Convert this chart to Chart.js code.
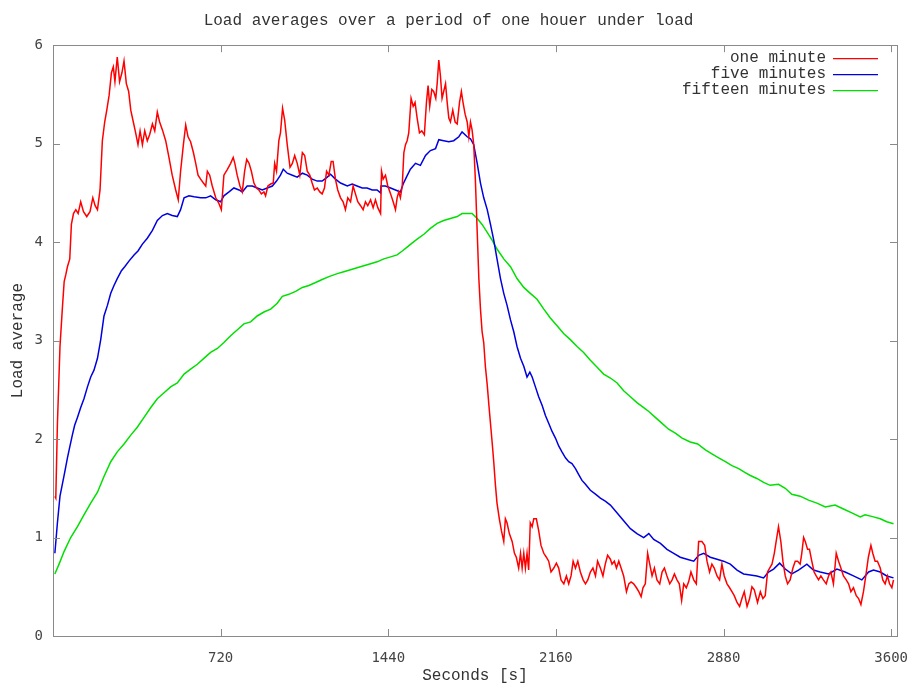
<!DOCTYPE html>
<html>
<head>
<meta charset="utf-8">
<script src="https://cdn.jsdelivr.net/npm/chart.js@4"></script>
<style>
html,body{margin:0;padding:0;background:#fff;}
canvas{display:block;}
</style>
</head>
<body>
<canvas id="c" width="909" height="684"></canvas>
<script>
// ---- data (seconds, load average) ----
const oneMinTime = [8,12,19,30,40,48,55,62,72,79,88,98,108,119,131,145,159,171,181,191,202,212,222,231,241,251,259,266,276,286,296,305,315,325,334,345,355,365,374,384,394,405,415,427,437,448,458,470,484,498,512,527,538,548,560,570,580,
591,603,613,623,634,646,656,663,673,684,699,713,723,734,749,763,774,781,791,803,813,823,832,842,852,863,874,884,895,906,913,923,935,946,952,960,970,977,986,995,1006,1018,1028,1038,1049,1060,1071,1081,1092,1103,1113,1123,1135,1146,1156,1166,1175,1185,
1195,1203,1213,1223,1235,1246,1256,1266,1278,1289,1299,1309,1321,1332,1342,1352,1364,1375,1385,1395,1407,1411,1418,1428,1438,1450,1461,1471,1478,1485,1492,1500,1507,1514,1521,1528,1538,1547,1555,1564,1574,1584,1595,1604,1611,1618,1627,1635,1644,1650,1657,1664,1671,1678,1686,1693,1700,1707,1717,1727,1736,1746,1754,1761,1770,1779,1786,1793,
1800,1807,1814,1822,1829,1836,1843,1850,1857,1865,1872,1879,1886,1893,1900,1907,1917,1926,1936,1943,1950,1960,1972,1982,1990,2000,2008,2015,2022,2029,2036,2043,2050,2058,2065,2076,2086,2096,2108,2119,2129,2139,2151,2162,2172,2182,2194,2205,2215,2225,2234,2244,2254,2265,2277,2287,2297,2308,2319,2330,2339,2351,2362,2372,2382,
2394,2401,2411,2420,2430,2440,2451,2463,2473,2483,2494,2506,2516,2526,2534,2544,2554,2563,2573,2583,2594,2606,2616,2626,2637,2649,2659,2669,2680,2690,2700,2709,2720,2730,2740,2752,2763,2773,2787,2799,2809,2820,2830,2840,2852,2863,2873,2883,2895,2906,2916,2926,2938,2949,2959,2969,2981,2992,
3002,3012,3026,3038,3049,3059,3069,3078,3088,3098,3106,3116,3126,3135,3145,3155,3166,3178,3188,3198,3209,3216,3224,3231,3241,3249,3259,3269,3278,3288,3298,3309,3321,3331,3341,3352,3364,3374,3384,3395,3407,3417,3427,3438,3450,3460,3470,3481,3491,3502,3513,3521,3531,3541,3553,3564,3574,3584,3593,3603,3610];
const oneMinLoad = [1.42,1.40,2.16,2.94,3.32,3.60,3.67,3.75,3.83,4.18,4.29,4.33,4.29,4.41,4.31,4.26,4.31,4.45,4.37,4.33,4.53,5.03,5.22,5.34,5.49,5.72,5.78,5.63,5.88,5.63,5.72,5.84,5.61,5.53,5.34,5.22,5.11,4.99,5.13,4.99,5.13,5.03,5.09,5.20,5.13,5.32,5.22,5.14,5.03,4.86,4.68,4.53,4.43,4.72,4.99,5.19,5.07,
5.02,4.91,4.80,4.68,4.64,4.60,4.57,4.72,4.68,4.57,4.45,4.39,4.33,4.68,4.74,4.80,4.86,4.80,4.68,4.57,4.51,4.72,4.84,4.80,4.72,4.60,4.55,4.53,4.49,4.51,4.47,4.57,4.59,4.60,4.80,4.72,5.03,5.11,5.36,5.24,4.99,4.76,4.80,4.88,4.80,4.68,4.91,4.88,4.72,4.68,4.60,4.53,4.55,4.51,4.49,4.55,4.72,4.68,
4.82,4.82,4.64,4.53,4.45,4.41,4.33,4.45,4.41,4.57,4.49,4.41,4.37,4.33,4.41,4.37,4.43,4.35,4.43,4.35,4.29,4.72,4.64,4.68,4.57,4.49,4.41,4.33,4.45,4.51,4.45,4.57,4.91,4.99,5.03,5.11,5.46,5.38,5.42,5.26,5.11,5.13,5.09,5.42,5.59,5.38,5.55,5.53,5.46,5.61,5.85,5.69,5.46,5.53,5.61,5.42,5.26,5.22,5.34,5.22,5.20,5.42,5.53,5.42,5.30,5.22,5.07,5.22,
5.14,4.99,4.64,4.10,3.63,3.32,3.09,2.98,2.74,2.55,2.35,2.16,1.97,1.77,1.54,1.35,1.19,1.07,0.96,1.19,1.15,1.04,0.96,0.84,0.80,0.69,0.84,0.69,0.84,0.69,0.84,0.67,1.15,1.11,1.19,1.19,1.07,0.92,0.84,0.80,0.76,0.65,0.69,0.74,0.69,0.57,0.53,0.61,0.53,0.61,0.76,0.69,0.76,0.65,0.57,0.53,0.57,0.65,0.69,0.61,0.76,0.69,0.61,0.73,0.82,
0.78,0.73,0.76,0.69,0.76,0.69,0.61,0.45,0.53,0.55,0.53,0.49,0.45,0.40,0.49,0.53,0.84,0.73,0.61,0.69,0.57,0.53,0.65,0.69,0.61,0.53,0.57,0.63,0.57,0.53,0.36,0.53,0.49,0.55,0.65,0.57,0.53,0.96,0.96,0.92,0.76,0.65,0.73,0.69,0.61,0.57,0.73,0.61,0.53,0.49,0.45,0.41,0.34,0.30,0.38,0.45,0.30,0.38,
0.50,0.47,0.34,0.45,0.38,0.41,0.65,0.69,0.73,0.84,0.96,1.11,0.96,0.76,0.61,0.53,0.57,0.69,0.76,0.76,0.73,0.84,1.00,0.96,0.88,0.88,0.76,0.65,0.61,0.57,0.61,0.57,0.53,0.61,0.65,0.53,0.84,0.76,0.69,0.61,0.57,0.53,0.45,0.49,0.41,0.38,0.32,0.45,0.61,0.80,0.92,0.84,0.76,0.76,0.69,0.57,0.53,0.61,0.53,0.49,0.57];

const fiveMinTime = [8,19,30,40,50,62,73,83,93,105,119,133,148,162,176,191,205,219,234,248,262,276,294,308,327,348,365,384,405,427,448,470,491,512,534,548,563,584,
606,634,656,677,699,720,734,756,777,799,813,834,856,877,899,920,942,960,977,989,1006,1028,1049,1071,1092,1113,1135,1156,1178,1192,
1213,1235,1264,1285,1306,1328,1349,1371,1392,1407,1409,1428,1450,1471,1492,1504,1518,1535,1557,1578,1600,1621,1643,1657,1678,1700,1721,1743,1757,1779,1793,
1807,1822,1836,1850,1865,1879,1893,1907,1922,1936,1950,1965,1979,1993,2008,2022,2036,2048,2058,2072,2086,2101,2115,2129,2143,2158,2172,2186,2201,2215,2229,2244,2258,2272,2287,2308,2330,2351,2372,2394,
2423,2451,2480,2508,2537,2559,2580,2609,2637,2666,2694,2723,2752,2773,2795,2823,2852,2880,2909,2938,2966,2995,
3023,3052,3073,3095,3121,3145,3173,3202,3238,3266,3295,3331,3367,3402,3438,3474,3503,3524,3553,3581,3610];
const fiveMinLoad = [0.84,1.15,1.42,1.54,1.66,1.81,1.93,2.04,2.14,2.22,2.32,2.41,2.53,2.63,2.70,2.82,3.01,3.25,3.36,3.48,3.56,3.63,3.71,3.75,3.81,3.87,3.91,3.98,4.04,4.12,4.22,4.27,4.29,4.27,4.26,4.33,4.45,4.47,
4.46,4.45,4.45,4.47,4.43,4.41,4.47,4.51,4.55,4.53,4.51,4.57,4.57,4.55,4.53,4.55,4.57,4.62,4.68,4.74,4.70,4.68,4.66,4.70,4.68,4.64,4.62,4.62,4.66,4.69,
4.64,4.60,4.57,4.59,4.57,4.55,4.55,4.53,4.53,4.50,4.57,4.57,4.55,4.53,4.51,4.59,4.66,4.74,4.80,4.78,4.88,4.93,4.95,5.04,5.03,5.02,5.03,5.07,5.12,5.07,5.05,
4.99,4.80,4.60,4.45,4.33,4.18,4.02,3.83,3.63,3.48,3.36,3.21,3.09,2.94,2.82,2.74,2.63,2.68,2.63,2.53,2.43,2.34,2.24,2.16,2.08,2.01,1.93,1.87,1.81,1.77,1.75,1.70,1.64,1.58,1.54,1.48,1.44,1.40,1.37,1.33,
1.25,1.17,1.09,1.04,1.00,1.04,0.98,0.94,0.88,0.84,0.80,0.78,0.76,0.82,0.84,0.80,0.78,0.76,0.73,0.67,0.63,0.62,
0.61,0.59,0.65,0.68,0.74,0.68,0.63,0.67,0.73,0.67,0.65,0.63,0.68,0.65,0.61,0.57,0.65,0.67,0.65,0.61,0.59];

const fifteenMinTime = [8,26,48,76,105,133,162,191,219,248,276,305,334,362,391,420,448,477,505,534,563,591,
620,648,677,706,734,763,792,820,849,877,906,935,963,985,1013,1042,1071,1099,1128,1156,1185,
1221,1249,1278,1306,1335,1364,1392,1421,1450,1478,1500,1521,1542,1564,1593,1621,1650,1678,1707,1736,1757,1779,1800,
1822,1843,1865,1886,1907,1936,1965,1993,2022,2050,2079,2108,2136,2165,2194,2222,2251,2279,2308,2337,2365,2394,
2423,2451,2480,2508,2537,2559,2587,2616,2644,2673,2702,2737,2769,2802,2830,2859,2888,2916,2945,2973,2995,
3023,3052,3080,3116,3145,3173,3209,3245,3281,3317,3359,3395,3431,3467,3488,3524,3553,3581,3610];
const fifteenMinLoad = [0.63,0.73,0.86,1.00,1.11,1.23,1.35,1.46,1.62,1.77,1.87,1.95,2.04,2.12,2.22,2.32,2.41,2.47,2.53,2.57,2.66,2.71,
2.76,2.82,2.88,2.92,2.98,3.05,3.11,3.17,3.19,3.25,3.29,3.32,3.38,3.45,3.47,3.50,3.54,3.56,3.59,3.62,3.65,
3.68,3.70,3.72,3.74,3.76,3.78,3.80,3.83,3.85,3.87,3.91,3.95,3.99,4.03,4.08,4.14,4.19,4.22,4.24,4.26,4.29,4.29,4.29,
4.24,4.18,4.10,4.02,3.93,3.83,3.75,3.63,3.54,3.48,3.42,3.32,3.23,3.15,3.07,3.01,2.94,2.88,2.80,2.73,2.66,2.62,
2.57,2.49,2.43,2.37,2.32,2.28,2.22,2.16,2.10,2.06,2.01,1.97,1.95,1.89,1.85,1.81,1.77,1.73,1.70,1.66,1.63,
1.60,1.56,1.53,1.54,1.50,1.44,1.42,1.38,1.35,1.31,1.33,1.29,1.25,1.21,1.23,1.21,1.19,1.16,1.14];

const xTickValues = [720,1440,2160,2880,3600];
const yTickValues = [0,1,2,3,4,5,6];
const seriesLabels = ['one minute','five minutes','fifteen minutes'];
const chartTitle = 'Load averages over a period of one houer under load';
const xTitle = 'Seconds [s]';
const yTitle = 'Load average';

const toPoints = (t, v) => t.map((x, i) => ({x: x, y: v[i]}));

const MONO = '"Liberation Mono", "DejaVu Sans Mono", monospace';
const TICKFONT = '"DejaVu Sans Mono", monospace';

const frame = {
  id: 'frame',
  afterDatasetsDraw(chart) {
    const {ctx, chartArea: a, scales} = chart;
    ctx.save();
    ctx.strokeStyle = '#8a8a8a';
    ctx.lineWidth = 1;
    ctx.strokeRect(Math.round(a.left) + 0.5, Math.round(a.top) + 0.5, Math.round(a.right - a.left), Math.round(a.bottom - a.top));
    const L = 7;
    ctx.beginPath();
    xTickValues.forEach(v => {
      const px = Math.round(scales.x.getPixelForValue(v)) + 0.5;
      ctx.moveTo(px, a.bottom); ctx.lineTo(px, a.bottom - L);
      ctx.moveTo(px, a.top); ctx.lineTo(px, a.top + L);
    });
    yTickValues.forEach(v => {
      const py = Math.round(scales.y.getPixelForValue(v)) + 0.5;
      ctx.moveTo(a.left, py); ctx.lineTo(a.left + L, py);
      ctx.moveTo(a.right, py); ctx.lineTo(a.right - L, py);
    });
    ctx.stroke();
    // legend
    ctx.font = '16px ' + MONO;
    ctx.textAlign = 'right';
    ctx.textBaseline = 'middle';
    chart.data.datasets.forEach((ds, i) => {
      const y = a.top + 13 + i * 16;
      ctx.fillStyle = '#333';
      ctx.fillText(ds.label, a.right - 71, y);
      ctx.strokeStyle = ds.borderColor;
      ctx.lineWidth = 1.2;
      ctx.beginPath();
      ctx.moveTo(a.right - 64, y + 0.5);
      ctx.lineTo(a.right - 19, y + 0.5);
      ctx.stroke();
    });
    ctx.restore();
  }
};

new Chart(document.getElementById('c'), {
  type: 'line',
  data: {
    datasets: [
      {label: seriesLabels[0], data: toPoints(oneMinTime, oneMinLoad), borderColor: '#ff0000'},
      {label: seriesLabels[1], data: toPoints(fiveMinTime, fiveMinLoad), borderColor: '#0000e0'},
      {label: seriesLabels[2], data: toPoints(fifteenMinTime, fifteenMinLoad), borderColor: '#00e000'}
    ].map(d => Object.assign(d, {borderWidth: 1.5, pointRadius: 0, tension: 0, fill: false}))
  },
  options: {
    responsive: false,
    animation: false,
    layout: {padding: {left: 0, right: 12, top: 0, bottom: 0}},
    plugins: {
      legend: {display: false},
      tooltip: {enabled: false},
      title: {
        display: true, text: chartTitle, color: '#333',
        font: {family: MONO, size: 16, weight: 'normal', lineHeight: 1.2},
        padding: {top: 11, bottom: 15}
      }
    },
    scales: {
      x: {
        type: 'linear', min: 0, max: 3625,
        afterBuildTicks: s => { s.ticks = xTickValues.map(v => ({value: v})); },
        afterFit: s => { s.height = 48; s.paddingLeft = 0; s.paddingRight = 0; },
        grid: {display: false, drawTicks: false},
        border: {display: false},
        ticks: {color: '#444', font: {family: TICKFONT, size: 14}, padding: 14, maxRotation: 0, autoSkip: false,
                callback: v => String(v)},
        title: {display: true, text: xTitle, color: '#333', font: {family: MONO, size: 16, lineHeight: 1}, padding: {top: 0, bottom: 0}}
      },
      y: {
        min: 0, max: 6,
        afterBuildTicks: s => { s.ticks = yTickValues.map(v => ({value: v})); },
        afterFit: s => { s.width = 53; s.paddingTop = 0; s.paddingBottom = 0; },
        grid: {display: false, drawTicks: false},
        border: {display: false},
        ticks: {color: '#444', font: {family: TICKFONT, size: 14}, padding: 10, callback: v => String(v)},
        title: {display: true, text: yTitle, color: '#333', font: {family: MONO, size: 16, lineHeight: 1}, padding: {top: 10, bottom: 0}}
      }
    }
  },
  plugins: [frame]
});
</script>
</body>
</html>
